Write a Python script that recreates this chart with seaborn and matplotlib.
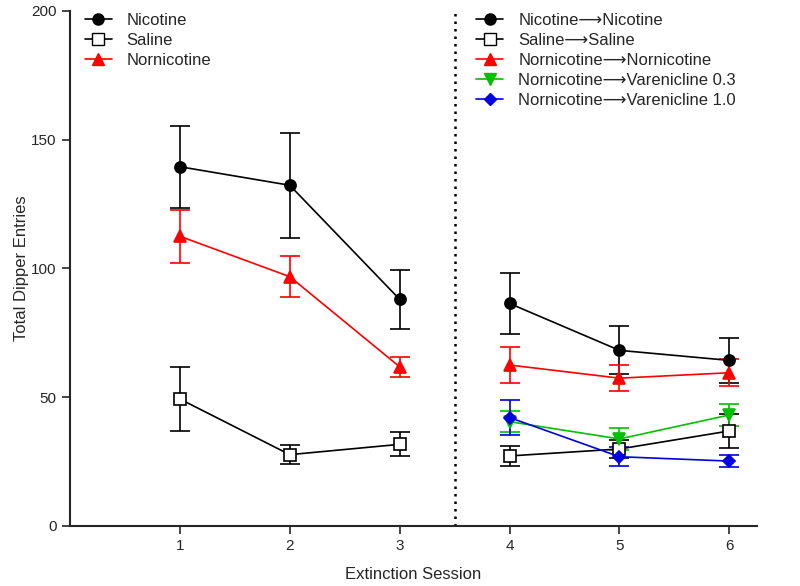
import numpy as np
import pandas as pd
import matplotlib
matplotlib.use("Agg")
import matplotlib.pyplot as plt
from matplotlib.lines import Line2D
import seaborn as sns

# extinction sessions 1-3 (first phase) and 4-6 (second phase)
sessions_a = [1, 2, 3]
sessions_b = [4, 5, 6]

nic_a = [139.5, 132.3, 88.0]
nic_a_sem = [16.0, 20.3, 11.5]
sal_a = [49.3, 27.7, 31.7]
sal_a_sem = [12.5, 3.7, 4.7]
nor_a = [112.5, 96.8, 61.8]
nor_a_sem = [10.3, 8.0, 4.0]

nic_b = [86.4, 68.2, 64.3]
nic_b_sem = [12.0, 9.3, 8.6]
sal_b = [27.2, 29.9, 36.9]
sal_b_sem = [4.0, 3.4, 6.6]
nor_b = [62.5, 57.4, 59.5]
nor_b_sem = [7.0, 5.0, 5.3]
var03_b = [40.5, 33.8, 43.1]
var03_b_sem = [4.0, 4.4, 4.2]
var10_b = [42.1, 26.9, 25.2]
var10_b_sem = [6.9, 3.7, 2.2]

labels_a = ["Nicotine", "Saline", "Nornicotine"]
labels_b = ["Nicotine\u27f6Nicotine", "Saline\u27f6Saline",
            "Nornicotine\u27f6Nornicotine", "Nornicotine\u27f6Varenicline 0.3",
            "Nornicotine\u27f6Varenicline 1.0"]

sns.set_theme(style="ticks")
plt.rcParams['font.family'] = ['Liberation Sans', 'DejaVu Sans']

fig = plt.figure(figsize=(8, 5.86), dpi=100)
ax = fig.add_axes([0.0875, 0.1024, 0.8585, 0.879])

styles = {
    "nic": dict(color="black", marker="o", mfc="black", ms=8),
    "sal": dict(color="black", marker="s", mfc="white", ms=8),
    "nor": dict(color="#ff0000", marker="^", mfc="#ff0000", ms=8),
    "v03": dict(color="#00c000", marker="v", mfc="#00c000", ms=8),
    "v10": dict(color="#0000e0", marker="D", mfc="#0000e0", ms=6),
}

groups = [
    (sessions_a, nic_a, nic_a_sem, "nic"),
    (sessions_a, sal_a, sal_a_sem, "sal"),
    (sessions_a, nor_a, nor_a_sem, "nor"),
    (sessions_b, nic_b, nic_b_sem, "nic"),
    (sessions_b, sal_b, sal_b_sem, "sal"),
    (sessions_b, nor_b, nor_b_sem, "nor"),
    (sessions_b, var03_b, var03_b_sem, "v03"),
    (sessions_b, var10_b, var10_b_sem, "v10"),
]

for xs, ys, sem, key in groups:
    st = styles[key]
    df = pd.DataFrame({"session": xs, "entries": ys})
    ax.errorbar(xs, ys, yerr=sem, fmt="none", ecolor=st["color"],
                elinewidth=1.2, capsize=7, capthick=1.2, zorder=2)
    sns.lineplot(data=df, x="session", y="entries", ax=ax, color=st["color"],
                 marker=st["marker"], markerfacecolor=st["mfc"],
                 markeredgecolor=st["color"], markeredgewidth=1.2,
                 markersize=st["ms"], linewidth=1.2, zorder=3)

ax.axvline(3.5, color="black", linestyle=(0, (1, 2)), linewidth=1.8)

ax.set_xlim(0, 6.25)
ax.set_ylim(0, 200)
ax.set_xticks([1, 2, 3, 4, 5, 6])
ax.set_yticks([0, 50, 100, 150, 200])
ax.tick_params(labelsize=11, width=1.2, length=6)
ax.set_xlabel("Extinction Session", fontsize=12, labelpad=10)
ax.set_ylabel("Total Dipper Entries", fontsize=12, labelpad=2)
for s in ["left", "bottom"]:
    ax.spines[s].set_linewidth(1.5)
sns.despine(ax=ax)


def handle(key):
    st = styles[key]
    return Line2D([], [], color=st["color"], marker=st["marker"],
                  markerfacecolor=st["mfc"], markeredgecolor=st["color"],
                  markersize=st["ms"], linewidth=1.2)


leg1 = ax.legend([handle(k) for k in ["nic", "sal", "nor"]], labels_a,
                 loc="upper left", bbox_to_anchor=(0.0, 1.025), frameon=False,
                 fontsize=12, handlelength=1.6, handletextpad=0.9,
                 labelspacing=0.3)
ax.add_artist(leg1)
ax.legend([handle(k) for k in ["nic", "sal", "nor", "v03", "v10"]], labels_b,
          loc="upper left", bbox_to_anchor=(0.57, 1.025), frameon=False,
          fontsize=12, handlelength=1.6, handletextpad=0.9, labelspacing=0.3)

fig.savefig("out.png", dpi=100)
